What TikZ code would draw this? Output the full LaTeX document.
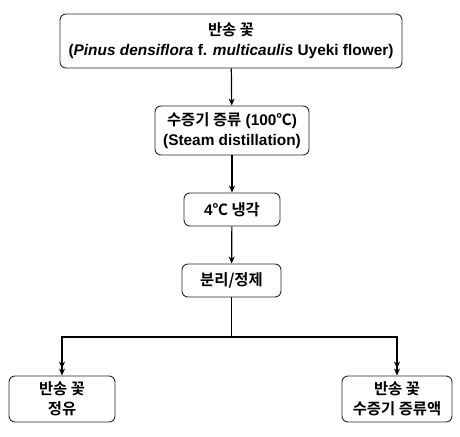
\documentclass[tikz,border=0pt]{standalone}
\usepackage{fontspec}
\usepackage{tikz}
\setmainfont{Liberation Sans}
\newfontfamily\kr{Noto Sans CJK KR}[BoldFont={* Bold}]
\usetikzlibrary{arrows.meta}

\tikzset{
  stepbox/.style={draw=black!85,line width=0.9pt,rounded corners=6pt,align=center,
    font=\bfseries\fontsize{15.4}{20}\selectfont,inner sep=2pt},
  flow/.style={line width=1.2pt,-{Stealth[length=7pt,width=6pt]}},
  split/.style={line width=1.2pt,-{Stealth[length=7pt,width=6pt]Stealth[length=7pt,width=6pt]}}
}

\begin{document}
\begin{tikzpicture}[x=1pt,y=1pt]
    \useasboundingbox (0,0) rectangle (460,-436);

    \node[stepbox,minimum width=342pt,minimum height=54pt](flower)at(231,-41){{\kr 반송 꽃}\\(\textit{Pinus densiflora} f. \textit{multicaulis} Uyeki flower)};
    \node[stepbox,minimum width=154pt,minimum height=49pt](steam)at(232,-130.5){{\kr 수증기 증류} (100{\kr ℃})\\(Steam distillation)};
    \node[stepbox,minimum width=96pt,minimum height=33pt](cool)at(232,-209.5){4{\kr ℃ 냉각}};
    \node[stepbox,minimum width=99pt,minimum height=33pt](sep)at(231.5,-280.5){{\kr 분리/정제}};
    \node[stepbox,minimum width=106pt,minimum height=46pt](oil)at(62,-399){\kr 반송 꽃\\\kr 정유};
    \node[stepbox,minimum width=110pt,minimum height=46pt](water)at(397,-399){\kr 반송 꽃\\\kr 수증기 증류액};

    \coordinate (fork) at (sep.south |- 0,-337);

    \draw[flow] (flower) to (steam);
    \draw[flow] (steam) to (cool);
    \draw[flow] (cool) to (sep);
    \draw[line width=1.2pt] (sep) to (fork);
    \draw[split] (fork) -| (oil.north);
    \draw[split] (fork) -| (water.north);
  \end{tikzpicture}
\end{document}
